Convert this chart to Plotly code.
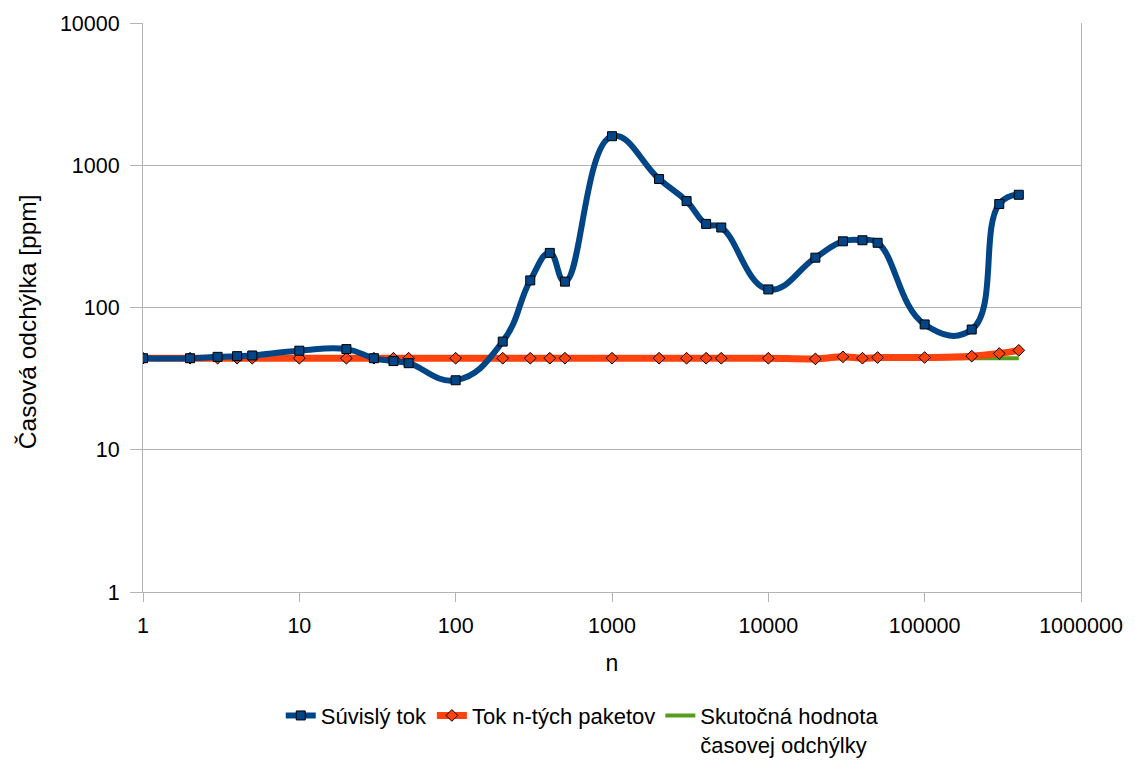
import plotly.graph_objects as go

n_vals = [1, 2, 3, 4, 5, 10, 20, 30, 40, 50, 100, 200, 300, 400, 500,
          1000, 2000, 3000, 4000, 5000, 10000, 20000, 30000, 40000, 50000,
          100000, 200000, 300000, 400000]

suvisly_tok = [44, 44, 45, 45.5, 46, 49.7, 51, 44, 42, 40.6, 30.8, 57.6, 155, 242, 152,
               1600, 800, 560, 387, 365, 134, 224, 292, 297, 285,
               76, 70, 534, 620]

tok_n_tych = [44, 44, 44, 44, 44, 44, 44, 44, 44, 44, 44, 44, 44, 44, 44,
              44, 44, 44, 44, 44, 44, 43.5, 45, 44, 44.5,
              44.5, 45.5, 47.5, 50]

skutocna_n = [1, 400000]
skutocna = [44, 44]

x_tickvals = [1, 10, 100, 1000, 10000, 100000, 1000000]
x_ticktext = ["1", "10", "100", "1000", "10000", "100000", "1000000"]
y_tickvals = [1, 10, 100, 1000, 10000]
y_ticktext = ["1", "10", "100", "1000", "10000"]

BLUE = "#004586"
ORANGE = "#ff420e"
GREEN = "#579d1c"
GRID = "#b3b3b3"

fig = go.Figure()
fig.add_trace(go.Scatter(
    x=skutocna_n, y=skutocna, mode="lines",
    name="Skutočná hodnota<br>časovej odchýlky",
    line=dict(color=GREEN, width=4), legendrank=3))
fig.add_trace(go.Scatter(
    x=n_vals, y=tok_n_tych, mode="lines+markers", name="Tok n-tých paketov",
    line=dict(color=ORANGE, width=7, shape="spline", smoothing=1.0),
    marker=dict(symbol="diamond", size=9, color=ORANGE,
                line=dict(color="black", width=1)), legendrank=2))
fig.add_trace(go.Scatter(
    x=n_vals, y=suvisly_tok, mode="lines+markers", name="Súvislý tok",
    line=dict(color=BLUE, width=6, shape="spline", smoothing=1.3),
    marker=dict(symbol="square", size=9, color=BLUE,
                line=dict(color="black", width=1)), legendrank=1))

fig.update_layout(
    width=1135, height=760,
    margin=dict(l=143, r=48, t=20, b=168),
    paper_bgcolor="white", plot_bgcolor="white",
    font=dict(family="Liberation Sans, Arial, sans-serif", size=21.5, color="black"),
    showlegend=True,
    legend=dict(orientation="h", xref="container", yref="container",
                x=0.513, xanchor="center", y=0.086, yanchor="top",
                font=dict(size=22), valign="top", itemwidth=30,
                tracegroupgap=0,
                traceorder="normal", bgcolor="rgba(0,0,0,0)"),
    xaxis=dict(type="log", range=[0, 6], tickvals=x_tickvals, ticktext=x_ticktext,
               showgrid=False, showline=True, linecolor=GRID, linewidth=1,
               ticks="outside", ticklen=9, tickcolor=GRID, zeroline=False,
               ticklabelstandoff=5,
               title=dict(text="n", font=dict(size=23), standoff=18)),
    yaxis=dict(type="log", range=[0, 4], tickvals=y_tickvals, ticktext=y_ticktext,
               showgrid=True, gridcolor=GRID, gridwidth=1,
               showline=True, linecolor=GRID, linewidth=1, mirror=True,
               ticks="outside", ticklen=12, tickcolor=GRID, zeroline=False,
               ticklabelstandoff=6),
    annotations=[dict(text="Časová odchýlka [ppm]", textangle=-90,
                      xref="paper", yref="paper", x=-0.1229, y=0.4755,
                      xanchor="center", yanchor="middle", showarrow=False,
                      font=dict(size=24.5, color="black"))],
)

fig.write_html("out.html")
